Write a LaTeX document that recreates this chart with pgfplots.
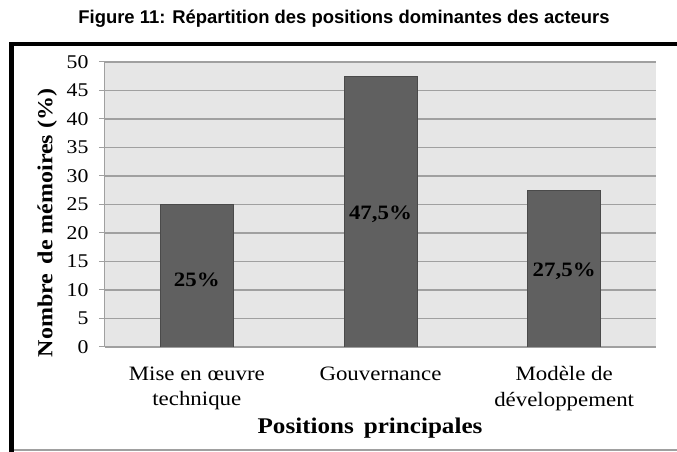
\documentclass[border=0pt]{standalone}
\usepackage{fontspec}
\setmainfont{Liberation Serif}[FakeStretch=1.12]
\newfontfamily\titlefont{Liberation Sans}
\usepackage{pgfplots}
\pgfplotsset{compat=1.18}
\definecolor{bg}{HTML}{E6E6E6}
\definecolor{barc}{HTML}{606060}
\definecolor{bared}{HTML}{4A4A4A}
\definecolor{gridc}{HTML}{A0A0A0}
\begin{document}
\begin{tikzpicture}
\begin{axis}[
  name=ax,
  scale only axis, width=551bp, height=285bp,
  xmin=-0.5, xmax=2.5, ymin=0, ymax=50,
  ytick={0,5,...,50},
  /pgf/number format/assume math mode=true,
  axis background/.style={fill=bg},
  ymajorgrids, grid style={gridc, line width=1.2bp},
  axis x line*=bottom, axis y line*=left,
  axis line style={gridc, line width=1bp},
  tick align=outside, major tick length=6bp,
  tick style={gridc, line width=1bp},
  yticklabel style={font=\fontsize{19.5}{22}\selectfont, xshift=-7bp},
  xtick={0,1,2},
  xticklabels={Mise en œuvre\\technique, Gouvernance, Modèle de\\développement},
  xticklabel style={align=center, font=\fontsize{20.5}{26}\selectfont, yshift=-10bp},
  major x tick style={draw=none},
  extra x ticks={-0.5,0.5,1.5,2.5},
  extra x tick labels={},
  extra x tick style={major tick length=7bp, tick style={gridc, line width=1bp}},
  ylabel={\bfseries Nombre\, de mémoires (\%)},
  ylabel style={font=\fontsize{21.5}{24}\selectfont, at={(axis description cs:-0.105,0.435)}, anchor=center},
  xlabel={\bfseries Positions\, principales},
  xlabel style={font=\fontsize{22.5}{24}\selectfont, at={(axis description cs:0.481,-0.284)}, anchor=center},
]
\coordinate (O) at (rel axis cs:0,0);
\addplot[ybar, bar width=73bp, fill=barc, draw=bared, line width=0.8bp] coordinates {(0,25) (1,47.5) (2,27.5)};
\addplot[only marks, mark=none, point meta=explicit symbolic, nodes near coords,
  nodes near coords style={anchor=center, font=\bfseries\fontsize{20.5}{22}\selectfont, text=black}]
  coordinates {(0,11.8) [25\%] (1,23.2) [47,5\%] (2,13.3) [27,5\%]};
\end{axis}
\begin{scope}[shift={(O)}, x=1bp, y=1bp, shift={(-105,-105)}]
\useasboundingbox (0,0) rectangle (677,452);
\draw[gridc, line width=1.2bp] (11.5,2) -- (690,2);
\draw[black, line width=4.5bp] (11.5,0) -- (11.5,408) -- (690,408);
\node[font=\titlefont\bfseries\fontsize{18.5}{21}\selectfont] at (344,433) {Figure 11: Répartition des positions dominantes des acteurs};
\end{scope}
\end{tikzpicture}
\end{document}
